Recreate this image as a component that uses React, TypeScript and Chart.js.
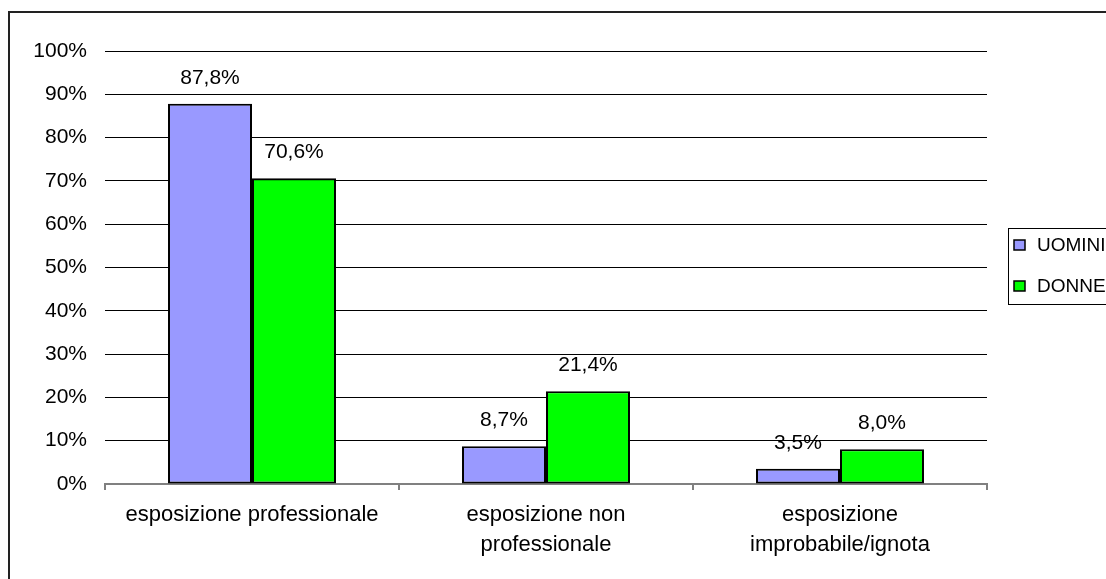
import React, { useEffect, useRef } from "react";
import { Chart, registerables } from "chart.js";

Chart.register(...registerables);

const categories: string[][] = [
  ["esposizione professionale"],
  ["esposizione non", "professionale"],
  ["esposizione", "improbabile/ignota"],
];
const seriesNames = ["UOMINI", "DONNE"];
const uomini = [87.8, 8.7, 3.5];
const donne = [70.6, 21.4, 8.0];
const seriesColors = ["#9999FF", "#00FF00"];
const yTicks = [0, 10, 20, 30, 40, 50, 60, 70, 80, 90, 100];

const FONT = "'Liberation Sans', Arial, sans-serif";

const fmt = (v: number) => v.toFixed(1).replace(".", ",") + "%";

const framePlugin = {
  id: "frame",
  beforeDraw(chart: any) {
    const ctx = chart.ctx;
    ctx.save();
    ctx.fillStyle = "#ffffff";
    ctx.fillRect(0, 0, chart.width, chart.height);
    ctx.strokeStyle = "#222222";
    ctx.lineWidth = 2;
    ctx.strokeRect(9, 12, chart.width + 20, chart.height + 20);
    ctx.restore();
  },
};

const labelPlugin = {
  id: "barLabels",
  afterDatasetsDraw(chart: any) {
    const ctx = chart.ctx;
    ctx.save();
    ctx.font = `21px ${FONT}`;
    ctx.fillStyle = "#000000";
    ctx.textAlign = "center";
    ctx.textBaseline = "middle";
    chart.data.datasets.forEach((ds: any, i: number) => {
      const meta = chart.getDatasetMeta(i);
      meta.data.forEach((bar: any, j: number) => {
        ctx.fillText(fmt(ds.data[j]), bar.x, bar.y - 26);
      });
    });
    ctx.restore();
  },
};

const legendPlugin = {
  id: "customLegend",
  afterDraw(chart: any) {
    const ctx = chart.ctx;
    ctx.save();
    ctx.strokeStyle = "#000000";
    ctx.lineWidth = 1;
    ctx.strokeRect(1008.5, 228.5, 200, 76);
    const ys = [245, 286];
    ctx.font = `19px ${FONT}`;
    ctx.textBaseline = "middle";
    ctx.textAlign = "left";
    seriesNames.forEach((name, i) => {
      const y = ys[i];
      ctx.fillStyle = seriesColors[i];
      ctx.fillRect(1014, y - 5, 11, 10);
      ctx.strokeStyle = "#000000";
      ctx.lineWidth = 1.5;
      ctx.strokeRect(1014, y - 5, 11, 10);
      ctx.fillStyle = "#000000";
      ctx.fillText(name, 1037, y + 1);
    });
    ctx.restore();
  },
};

export default function App() {
  const ref = useRef<HTMLCanvasElement>(null);

  useEffect(() => {
    document.body.style.margin = "0";
    const canvas = ref.current;
    if (!canvas) return;
    const chart = new Chart(canvas, {
      type: "bar",
      data: {
        labels: categories,
        datasets: [
          {
            label: seriesNames[0],
            data: uomini,
            backgroundColor: seriesColors[0],
            borderColor: "#000000",
            borderWidth: 2,
            borderSkipped: false,
            categoryPercentage: 0.5714,
            barPercentage: 1,
          },
          {
            label: seriesNames[1],
            data: donne,
            backgroundColor: seriesColors[1],
            borderColor: "#000000",
            borderWidth: 2,
            borderSkipped: false,
            categoryPercentage: 0.5714,
            barPercentage: 1,
          },
        ],
      },
      options: {
        animation: false,
        responsive: false,
        maintainAspectRatio: false,
        layout: { padding: { top: 51, right: 119, bottom: 0, left: 0 } },
        plugins: {
          legend: { display: false },
          tooltip: { enabled: false },
          title: { display: false },
        },
        scales: {
          x: {
            offset: true,
            grid: {
              display: true,
              drawOnChartArea: false,
              drawTicks: true,
              tickLength: 6,
              color: "#808080",
              lineWidth: 2,
              offset: true,
            },
            border: { display: true, color: "#808080", width: 2 },
            ticks: {
              color: "#000000",
              padding: 10,
              maxRotation: 0,
              autoSkip: false,
              font: { family: FONT, size: 22, lineHeight: "30px" },
            },
            afterFit: (s: any) => {
              s.height = 95;
            },
          },
          y: {
            min: 0,
            max: 100,
            afterBuildTicks: (s: any) => {
              s.ticks = yTicks.map((v) => ({ value: v }));
            },
            grid: {
              drawTicks: false,
              color: (c: any) => (c.tick && c.tick.value === 0 ? "rgba(0,0,0,0)" : "#000000"),
              lineWidth: 1,
            },
            border: { display: false },
            ticks: {
              color: "#000000",
              padding: 18,
              font: { family: FONT, size: 21 },
              callback: (v: any) => v + "%",
            },
            afterFit: (s: any) => {
              s.width = 105;
            },
          },
        },
      },
      plugins: [framePlugin, labelPlugin, legendPlugin],
    });
    return () => chart.destroy();
  }, []);

  return <canvas ref={ref} width={1106} height={579} style={{ display: "block" }} />;
}
